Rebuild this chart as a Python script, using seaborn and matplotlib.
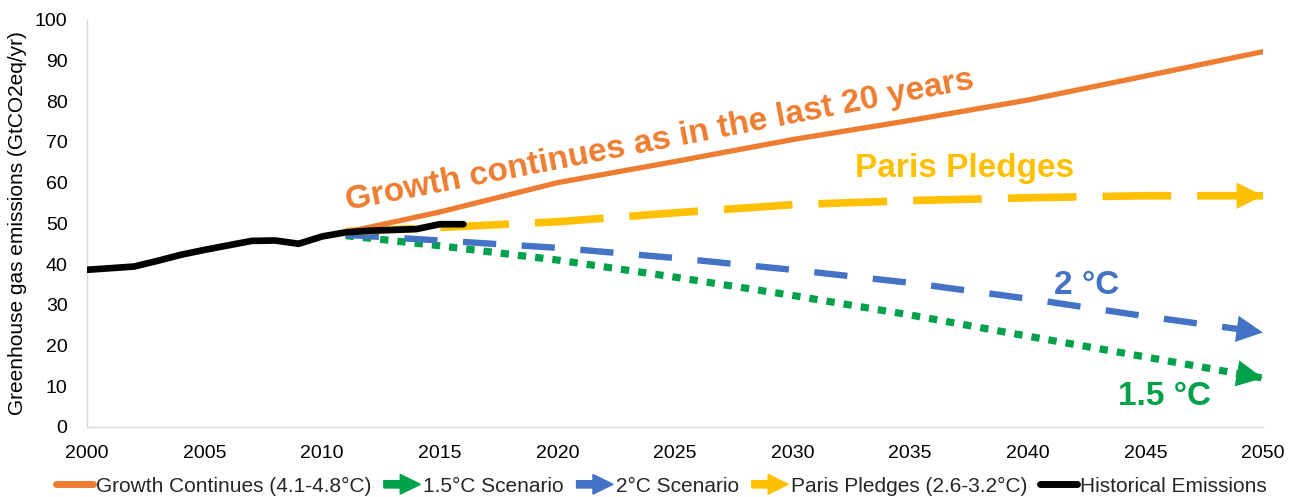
import numpy as np
import pandas as pd
import matplotlib
matplotlib.use("Agg")
import matplotlib.pyplot as plt
import matplotlib.patches as mpatches
from matplotlib.lines import Line2D
from matplotlib.legend_handler import HandlerPatch
import seaborn as sns

# ---------------- data ----------------
hist_years = [2000, 2001, 2002, 2003, 2004, 2005, 2006, 2007, 2008,
              2009, 2010, 2011, 2012, 2013, 2014, 2015, 2016]
hist_values = [38.6, 39.0, 39.4, 40.8, 42.3, 43.5, 44.6, 45.7, 45.8,
               45.0, 46.8, 47.8, 48.2, 48.4, 48.6, 49.8, 49.8]

scen_years = [2011, 2015, 2020, 2025, 2030, 2035, 2040, 2045, 2050]
growth = [47.8, 52.8, 60.0, 65.2, 70.6, 75.3, 80.3, 86.2, 92.2]
paris = [48.0, 49.0, 50.4, 52.6, 54.6, 55.6, 56.3, 56.8, 56.8]
two_c = [47.2, 45.8, 44.0, 41.5, 38.6, 35.4, 31.5, 27.2, 23.2]
one5_c = [47.0, 44.5, 41.0, 36.8, 32.3, 27.5, 22.3, 17.2, 12.0]

x_ticks = list(range(2000, 2051, 5))
y_ticks = list(range(0, 101, 10))

legend_labels = ["Growth Continues (4.1-4.8°C)", "1.5°C Scenario", "2°C Scenario",
                 "Paris Pledges (2.6-3.2°C)", "Historical Emissions"]

ORANGE = "#ED7D31"
GREEN = "#00A14B"
BLUE = "#4472C4"
YELLOW = "#FFC000"
BLACK = "#000000"

# ---------------- style ----------------
sns.set_theme(style="white")
plt.rcParams["font.family"] = ["Liberation Sans", "DejaVu Sans"]

fig = plt.figure(figsize=(12.98, 4.97), dpi=100)
ax = fig.add_axes([0.067, 0.141, 0.906, 0.819])

scen = pd.DataFrame({"year": scen_years, "growth": growth, "paris": paris,
                     "two": two_c, "one5": one5_c})
hist = pd.DataFrame({"year": hist_years, "value": hist_values})


def draw(col, color, lw, dashes=None, z=2):
    sns.lineplot(data=scen, x="year", y=col, ax=ax, color=color, lw=lw, zorder=z)
    line = ax.lines[-1]
    if dashes is not None:
        line.set_dashes(dashes)
        line.set_dash_capstyle("butt")
    return line


def head(col, color):
    xs = scen["year"].to_numpy(dtype=float)
    ys = scen[col].to_numpy(dtype=float)
    x0 = xs[-1] - 1.0
    ax.annotate("", xy=(xs[-1], ys[-1]), xytext=(x0, np.interp(x0, xs, ys)),
                arrowprops=dict(arrowstyle="-|>,head_length=1.9,head_width=0.95",
                                color=color, lw=0, mutation_scale=10,
                                shrinkA=0, shrinkB=0), zorder=5)


draw("growth", ORANGE, 3.8, z=3)
draw("one5", GREEN, 5.2, dashes=(1.15, 1.25), z=2)
draw("two", BLUE, 4.6, dashes=(5.2, 4.0), z=2)
draw("paris", YELLOW, 5.5, dashes=(9.0, 3.4), z=2)
head("one5", GREEN)
head("two", BLUE)
head("paris", YELLOW)

sns.lineplot(data=hist, x="year", y="value", ax=ax, color=BLACK, lw=4.8, zorder=4)

# ---------------- annotations ----------------
ax.text(2011.1, 53.3, "Growth continues as in the last 20 years", color=ORANGE,
        fontsize=24, fontweight="bold", rotation=11, rotation_mode="anchor",
        ha="left", va="baseline")
ax.text(2037.3, 63.6, "Paris Pledges", color=YELLOW, fontsize=24,
        fontweight="bold", ha="center", va="center")
ax.text(2042.5, 34.8, "2 °C", color=BLUE, fontsize=24, fontweight="bold",
        ha="center", va="center")
ax.text(2045.8, 7.5, "1.5 °C", color=GREEN, fontsize=24, fontweight="bold",
        ha="center", va="center")

# ---------------- axes ----------------
ax.set_xlim(2000, 2050)
ax.set_ylim(0, 100)
ax.set_xticks(x_ticks)
ax.set_yticks(y_ticks)
ax.tick_params(axis="both", length=0, labelsize=14, colors="black")
ax.tick_params(axis="x", pad=13)
ax.tick_params(axis="y", pad=14)
ax.set_xlabel("")
ax.set_ylabel("Greenhouse gas emissions (GtCO2eq/yr)", fontsize=15, color="black",
              labelpad=6)
for s in ["top", "right"]:
    ax.spines[s].set_visible(False)
for s in ["left", "bottom"]:
    ax.spines[s].set_color("#d9d9d9")
    ax.spines[s].set_linewidth(1.0)
ax.grid(False)


# ---------------- legend ----------------
def make_arrow(legend, orig_handle, xdescent, ydescent, width, height, fontsize):
    return mpatches.FancyArrow(-xdescent, height / 2 - ydescent, width, 0,
                               width=height * 0.5, head_width=height * 1.35,
                               head_length=width * 0.55, length_includes_head=True)


handles = [Line2D([0], [0], color=ORANGE, lw=5.0, solid_capstyle="round"),
           mpatches.Patch(color=GREEN),
           mpatches.Patch(color=BLUE),
           mpatches.Patch(color=YELLOW),
           Line2D([0], [0], color=BLACK, lw=5.0)]
fig.legend(handles, legend_labels, loc="center", bbox_to_anchor=(0.5096, 0.022),
           ncol=5, frameon=False, fontsize=15, handlelength=1.75,
           handletextpad=0.15, columnspacing=0.6,
           handler_map={mpatches.Patch: HandlerPatch(patch_func=make_arrow)})

fig.savefig("out.png", dpi=100)
